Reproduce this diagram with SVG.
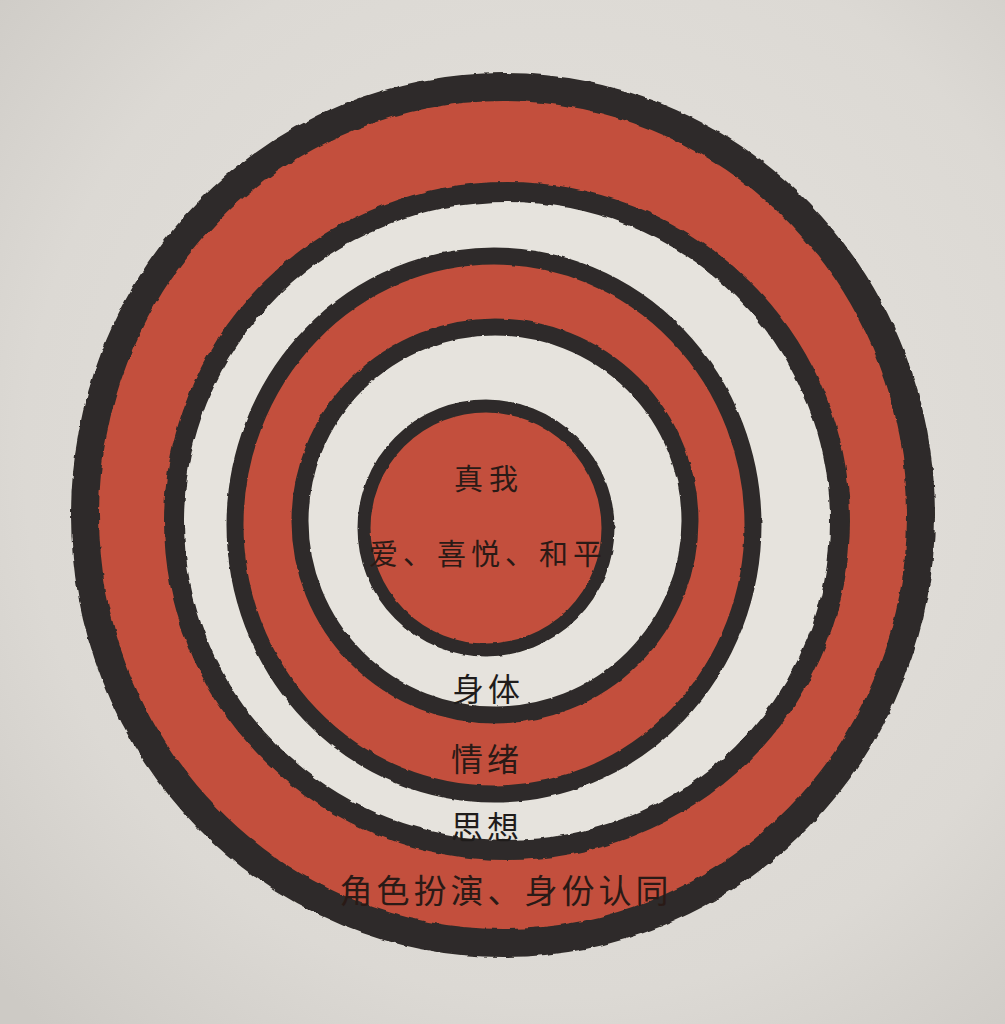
<svg xmlns="http://www.w3.org/2000/svg" width="1005" height="1024" viewBox="0 0 1005 1024">
<defs>
<radialGradient id="paper" cx="0.55" cy="0.45" r="0.75">
<stop offset="0" stop-color="#e6e3de"/>
<stop offset="0.7" stop-color="#dcd9d4"/>
<stop offset="1" stop-color="#cdcac5"/>
</radialGradient>
<filter id="rough" x="-5%" y="-5%" width="110%" height="110%">
<feTurbulence type="fractalNoise" baseFrequency="0.09" numOctaves="2" seed="3" result="n"/>
<feDisplacementMap in="SourceGraphic" in2="n" scale="4" xChannelSelector="R" yChannelSelector="G"/>
</filter>
<filter id="soft" x="-5%" y="-5%" width="110%" height="110%">
<feTurbulence type="fractalNoise" baseFrequency="0.12" numOctaves="2" seed="5" result="n"/>
<feDisplacementMap in="SourceGraphic" in2="n" scale="2.5" xChannelSelector="R" yChannelSelector="G"/>
</filter>
<style>
.red{fill:#c3503c;stroke:#2f2b29;}
.white{fill:#e6e3dd;stroke:#2f2b29;}
.lbl{font-family:"Noto Sans CJK SC","Noto Sans CJK JP",sans-serif;text-anchor:middle;fill:#2a1a16;}
.lw{fill:#1f1c1b;}
</style>
</defs>
<rect width="1005" height="1024" fill="url(#paper)"/>
<g id="ring-identity">
<ellipse class="red" cx="503" cy="515" rx="418" ry="428" stroke-width="28" filter="url(#rough)"/>
<text class="lbl" x="506" y="903" font-size="33" letter-spacing="4">角色扮演、身份认同</text>
</g>
<g id="ring-thought">
<ellipse class="white" cx="507" cy="521" rx="333" ry="329" stroke-width="20" filter="url(#rough)"/>
<text class="lbl lw" x="487" y="839" font-size="32" letter-spacing="4">思想</text>
</g>
<g id="ring-emotion">
<ellipse class="red" cx="494" cy="525" rx="259" ry="269" stroke-width="17" filter="url(#soft)"/>
<text class="lbl" x="487" y="771" font-size="32" letter-spacing="4">情绪</text>
</g>
<g id="ring-body">
<ellipse class="white" cx="495" cy="521" rx="195" ry="194" stroke-width="17" filter="url(#soft)"/>
<text class="lbl lw" x="488" y="701" font-size="32" letter-spacing="4">身体</text>
</g>
<g id="core">
<ellipse class="red" cx="486" cy="528" rx="122" ry="122" stroke-width="13" filter="url(#soft)"/>
<text class="lbl" x="489" y="490" font-size="29" letter-spacing="6">真我</text>
<text class="lbl" x="488" y="565" font-size="29" letter-spacing="5">爱、喜悦、和平</text>
</g>
<g id="connectors"/>
</svg>
